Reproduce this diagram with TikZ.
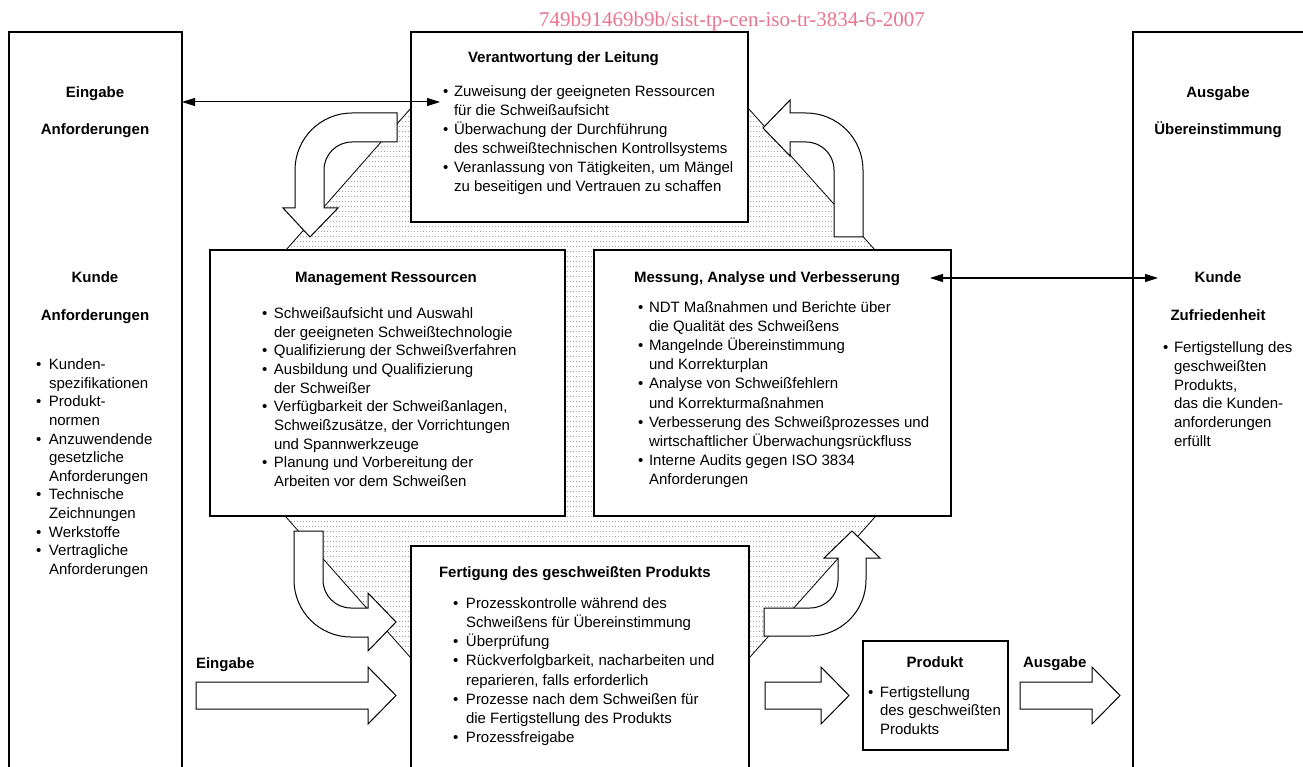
\documentclass[tikz,border=0pt]{standalone}
\usepackage{fontspec}
\setmainfont{Liberation Sans}
\newfontfamily\wmfont{Liberation Serif}
\usetikzlibrary{arrows.meta,patterns}
\definecolor{wmpink}{RGB}{233,118,146}
\pgfdeclarepatternformonly{stip}{\pgfqpoint{-1pt}{-1pt}}{\pgfqpoint{2pt}{4pt}}{\pgfqpoint{3pt}{5pt}}{%
  \pgfpathcircle{\pgfqpoint{0.5pt}{0.5pt}}{0.45pt}\pgfusepath{fill}}
\newlength\bw
\newcommand\bu{\makebox[\bw][l]{•}}
\newcommand\ct{\hspace*{\bw}}
\newcommand\txtlines[5]{%
  \foreach \myline [count=\i from 0] in {#5} {\node[txt, anchor=base west] (#4\i) at (#1, {#2+#3*\i}) {\myline};}}
\begin{document}
\begin{tikzpicture}[x=1pt,y=-1pt,
  box/.style={draw=black, line width=1.3pt, fill=white, inner sep=0pt, outer sep=0pt, anchor=north west},
  txt/.style={inner sep=0pt, outer sep=0pt, font=\fontsize{15}{18}\selectfont},
  ttl/.style={inner sep=0pt, outer sep=0pt, font=\fontsize{15}{18}\selectfont\bfseries},
  blk/.style={draw=black, line width=1pt, fill=white, line join=miter},
  dbl/.style={line width=1pt, {Triangle[length=13pt,width=8pt]}-{Triangle[length=13pt,width=8pt]}},
  stipple/.style={draw=black, line width=0.8pt, pattern=stip, pattern color=black!55}
]
\useasboundingbox (0,0) rectangle (1303,767);
\fill[white] (0,0) rectangle (1303,767);
\clip (0,0) rectangle (1303,767);

% stippled background region
\draw[stipple] (411,108) -- (748,108) -- (875,250) -- (875,517) -- (750,657) -- (410,657) -- (286,517) -- (286,250) -- cycle;

% boxes
\node[box, minimum width=173pt, minimum height=760pt] (eing) at (9,32) {};
\node[box, minimum width=200pt, minimum height=760pt] (ausg) at (1133,32) {};
\node[box, minimum width=337pt, minimum height=190pt] (verant) at (411,32) {};
\node[box, minimum width=355pt, minimum height=266pt] (mgmt) at (210,250) {};
\node[box, minimum width=357pt, minimum height=266pt] (mess) at (594,250) {};
\node[box, minimum width=338pt, minimum height=240pt] (fert) at (411,546) {};
\node[box, minimum width=145pt, minimum height=109pt] (prod) at (863,641) {};

% curved block arrows
\draw[blk] (397,113) -- (352,113) .. controls (320.5,113) and (295,138.5) .. (295,170) -- (295,208) -- (283,208) -- (310,237) -- (338,208) -- (324,208) -- (324,170) .. controls (324,154.5) and (336.5,142) .. (352,142) -- (397,142) -- cycle;
\draw[blk] (863,237) -- (863,170) .. controls (863,138.5) and (837.5,113) .. (806,113) -- (790,113) -- (790,100) -- (763,128) -- (790,156) -- (790,142) -- (806,142) .. controls (821.5,142) and (834,154.5) .. (834,170) -- (834,237) -- cycle;
\draw[blk] (294,531) -- (323,531) -- (323,580) .. controls (323,595.5) and (335.5,608) .. (351,608) -- (368,608) -- (368,593) -- (396,622) -- (368,651) -- (368,637) -- (351,637) .. controls (319.5,637) and (294,611.5) .. (294,580) -- cycle;
\draw[blk] (764,608) -- (810,608) .. controls (825.5,608) and (838,595.5) .. (838,580) -- (838,558) -- (824,558) -- (852,531) -- (880,558) -- (866,558) -- (866,580) .. controls (866,611) and (841,636) .. (810,636) -- (764,636) -- cycle;

% straight block arrows
\draw[blk] (196,682) -- (368,682) -- (368,667) -- (396,695.5) -- (368,724) -- (368,709) -- (196,709) -- cycle;
\draw[blk] (765,682) -- (821,682) -- (821,667) -- (849,695.5) -- (821,724) -- (821,709) -- (765,709) -- cycle;
\draw[blk] (1020,682) -- (1092,682) -- (1092,667) -- (1120,695.5) -- (1092,724) -- (1092,709) -- (1020,709) -- cycle;

% thin double arrows
\coordinate (a1e) at (440,102);
\coordinate (a2s) at (930,278);
\coordinate (a2e) at (1158,278);
\draw[dbl] (eing.east |- a1e) -- (a1e);
\draw[dbl] (a2s) -- (a2e);

% left column
\node[ttl, anchor=base] (le1) at (95,98) {Eingabe};
\node[ttl, anchor=base] (le2) at (95,135) {Anforderungen};
\node[ttl, anchor=base] (le3) at (95,283) {Kunde};
\node[ttl, anchor=base] (le4) at (95,320) {Anforderungen};
\setlength\bw{13pt}
\txtlines{36}{369.5}{18.64}{ll}{{\bu Kunden-},{\ct spezifikationen},{\bu Produkt-},{\ct normen},{\bu Anzuwendende},{\ct gesetzliche},{\ct Anforderungen},{\bu Technische},{\ct Zeichnungen},{\bu Werkstoffe},{\bu Vertragliche},{\ct Anforderungen}}

% right column
\node[ttl, anchor=base] (ri1) at (1218,98) {Ausgabe};
\node[ttl, anchor=base] (ri2) at (1218,135) {Übereinstimmung};
\node[ttl, anchor=base] (ri3) at (1218,283) {Kunde};
\node[ttl, anchor=base] (ri4) at (1218,320) {Zufriedenheit};
\setlength\bw{11pt}
\txtlines{1163}{352.5}{18.8}{rl}{{\bu Fertigstellung des},{\ct geschweißten},{\ct Produkts,},{\ct das die Kunden-},{\ct anforderungen},{\ct erfüllt}}

% Verantwortung
\node[ttl, anchor=base west] (vt) at (468,63) {Verantwortung der Leitung};
\setlength\bw{11pt}
\txtlines{443}{96.5}{19}{vl}{{\bu Zuweisung der geeigneten Ressourcen},{\ct für die Schweißaufsicht},{\bu Überwachung der Durchführung},{\ct des schweißtechnischen Kontrollsystems},{\bu Veranlassung von Tätigkeiten, um Mängel},{\ct zu beseitigen und Vertrauen zu schaffen}}

% Management
\node[ttl, anchor=base] (mt) at (386,283) {Management Ressourcen};
\setlength\bw{12pt}
\txtlines{262}{318.5}{18.67}{ml}{{\bu Schweißaufsicht und Auswahl},{\ct der geeigneten Schweißtechnologie},{\bu Qualifizierung der Schweißverfahren},{\bu Ausbildung und Qualifizierung},{\ct der Schweißer},{\bu Verfügbarkeit der Schweißanlagen,},{\ct Schweißzusätze, der Vorrichtungen},{\ct und Spannwerkzeuge},{\bu Planung und Vorbereitung der},{\ct Arbeiten vor dem Schweißen}}

% Messung
\node[ttl, anchor=base west] (st) at (634,283) {Messung, Analyse und Verbesserung};
\setlength\bw{11pt}
\txtlines{638}{312.5}{19.1}{sl}{{\bu NDT Maßnahmen und Berichte über},{\ct die Qualität des Schweißens},{\bu Mangelnde Übereinstimmung},{\ct und Korrekturplan},{\bu Analyse von Schweißfehlern},{\ct und Korrekturmaßnahmen},{\bu Verbesserung des Schweißprozesses und},{\ct wirtschaftlicher Überwachungsrückfluss},{\bu Interne Audits gegen ISO 3834},{\ct Anforderungen}}

% Fertigung
\node[ttl, anchor=base west] (ft) at (439,577.5) {Fertigung des geschweißten Produkts};
\setlength\bw{13pt}
\txtlines{453}{608.5}{19.14}{fl}{{\bu Prozesskontrolle während des},{\ct Schweißens für Übereinstimmung},{\bu Überprüfung},{\bu Rückverfolgbarkeit, nacharbeiten und},{\ct reparieren, falls erforderlich},{\bu Prozesse nach dem Schweißen für},{\ct die Fertigstellung des Produkts},{\bu Prozessfreigabe}}

% Produkt
\node[ttl, anchor=base] (pt) at (935,667) {Produkt};
\setlength\bw{12pt}
\txtlines{868}{697}{18.6}{pl}{{\bu Fertigstellung},{\ct des geschweißten},{\ct Produkts}}

% arrow labels
\node[ttl, anchor=base west] (lbin) at (196,668) {Eingabe};
\node[ttl, anchor=base west] (lbout) at (1023,667) {Ausgabe};

% watermark
\node[anchor=base west, inner sep=0pt, font=\wmfont\fontsize{21}{24}\selectfont, text=wmpink] (wm) at (539,27) {749b91469b9b/sist-tp-cen-iso-tr-3834-6-2007};
\end{tikzpicture}
\end{document}
